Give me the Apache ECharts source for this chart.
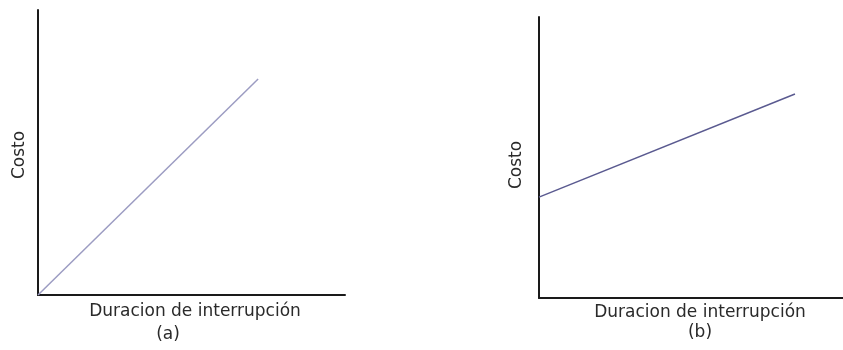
<!DOCTYPE html>
<html>
<head>
<meta charset="UTF-8">
<script src="https://cdn.jsdelivr.net/npm/echarts@6/dist/echarts.min.js"></script>
<style>
    html, body { margin: 0; padding: 0; background: #fff; }
    #chart { width: 843px; height: 350px; }
</style>
</head>
<body>
<div id="chart"></div>
<script>
// datos de las dos graficas (escala 0-100, sin unidades)
const lineaA = [[0, 0], [71.7, 75.8]];
const lineaB = [[0, 35.9], [84.2, 72.6]];
const tituloX = 'Duracion de interrupción';
const tituloY = 'Costo';
const etiquetas = ['(a)', '(b)'];

let dom = document.getElementById('chart');
let myChart = echarts.init(dom);
let fuente = 'DejaVu Sans';

// eje comun
function ejeX(idx) {
    return {
        type: 'value', gridIndex: idx, min: 0, max: 100,
        axisLine: { show: true, lineStyle: { color: '#1a1a1a', width: 2 } },
        axisTick: { show: false }, axisLabel: { show: false }, splitLine: { show: false }
    };
}
function ejeY(idx) {
    return {
        type: 'value', gridIndex: idx, min: 0, max: 100,
        axisLine: { show: true, lineStyle: { color: '#1a1a1a', width: 2 } },
        axisTick: { show: false }, axisLabel: { show: false }, splitLine: { show: false }
    };
}

function texto(x, y, t, rot) {
    return {
        type: 'text', x: x, y: y, rotation: rot || 0,
        style: { text: t, fill: '#2a2a2a', font: '17px "' + fuente + '"', align: 'center', verticalAlign: 'middle' }
    };
}

let option = {
    animation: false,
    grid: [
        { left: 38, top: 10, width: 307, height: 285 },
        { left: 539, top: 17, width: 304, height: 281 }
    ],
    xAxis: [ejeX(0), ejeX(1)],
    yAxis: [ejeY(0), ejeY(1)],
    series: [{
        type: 'line', xAxisIndex: 0, yAxisIndex: 0, data: lineaA, showSymbol: false,
        lineStyle: { color: '#9c9cc2', width: 1.5 }
    }, {
        type: 'line', xAxisIndex: 1, yAxisIndex: 1, data: lineaB, showSymbol: false,
        lineStyle: { color: '#5a5a90', width: 1.5 }
    }],
    graphic: [
        texto(195, 312, tituloX),
        texto(168, 335, etiquetas[0]),
        texto(20, 155, tituloY, Math.PI / 2),
        texto(700, 313, tituloX),
        texto(700, 333, etiquetas[1]),
        texto(517, 165, tituloY, Math.PI / 2)
    ]
};

myChart.setOption(option);
</script>
</body>
</html>
